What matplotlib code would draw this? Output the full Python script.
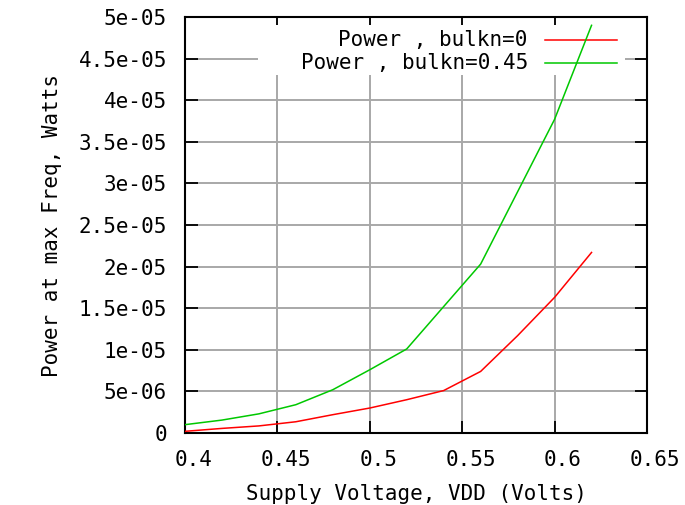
import matplotlib
matplotlib.use("Agg")
import matplotlib.pyplot as plt
from matplotlib.patches import Rectangle
from matplotlib.lines import Line2D
from matplotlib.transforms import ScaledTranslation

# supply voltage sweep and power at max frequency for two bulk settings
vdd = [0.40, 0.42, 0.44, 0.46, 0.48, 0.50, 0.52, 0.54, 0.56, 0.58, 0.60, 0.62]
power_bulk0 = [0.2e-6, 0.55e-6, 0.85e-6, 1.35e-6, 2.2e-6, 3.0e-6,
               4.0e-6, 5.1e-6, 7.4e-6, 1.17e-5, 1.63e-5, 2.17e-5]
power_bulk045 = [1.0e-6, 1.55e-6, 2.3e-6, 3.4e-6, 5.2e-6, 7.6e-6,
                 1.01e-5, 1.52e-5, 2.03e-5, 2.9e-5, 3.77e-5, 4.9e-5]

series_labels = ["Power , bulkn=0", "Power , bulkn=0.45"]
series_colors = ['#ff0000', '#00c800']

xticks = [0.4, 0.45, 0.5, 0.55, 0.6, 0.65]
xtick_labels = ["0.4", "0.45", "0.5", "0.55", "0.6", "0.65"]
yticks = [0, 5e-6, 1e-5, 1.5e-5, 2e-5, 2.5e-5, 3e-5, 3.5e-5, 4e-5, 4.5e-5, 5e-5]
ytick_labels = ["0", "5e-06", "1e-05", "1.5e-05", "2e-05", "2.5e-05",
                "3e-05", "3.5e-05", "4e-05", "4.5e-05", "5e-05"]

plt.rcParams['font.family'] = ['DejaVu Sans Mono']
plt.rcParams['font.size'] = 15

fig = plt.figure(figsize=(6.85, 5.05), dpi=100)
ax = fig.add_axes([0.270, 0.1426, 0.6745, 0.8237])

ax.plot(vdd, power_bulk0, color=series_colors[0], lw=1.1, zorder=3)
ax.plot(vdd, power_bulk045, color=series_colors[1], lw=1.1, zorder=3)

ax.set_xlim(0.4, 0.65)
ax.set_ylim(0, 5e-5)
ax.set_xticks(xticks)
ax.set_xticklabels(xtick_labels)
ax.set_yticks(yticks)
ax.set_yticklabels(ytick_labels)

ax.tick_params(direction='in', length=9, width=1.3, top=True, right=True,
               colors='black')
ax.tick_params(axis='x', pad=12)
ax.tick_params(axis='y', pad=13)
for lab in ax.get_xticklabels():
    lab.set_transform(lab.get_transform() + ScaledTranslation(6 / 72, 0, fig.dpi_scale_trans))

ax.grid(True, color='#a8a8a8', lw=1.4)
ax.set_axisbelow(True)
for sp in ax.spines.values():
    sp.set_linewidth(1.5)
    sp.set_color('black')

ax.set_xlabel("Supply Voltage, VDD (Volts)", labelpad=10)
ax.set_ylabel("Power at max Freq, Watts", labelpad=12)

# gnuplot-style key: blanked box, right-justified text, then the sample line
ax.add_patch(Rectangle((0.158, 0.861), 0.794, 0.12, transform=ax.transAxes,
                       facecolor='white', edgecolor='none', zorder=1))
key_rows = [0.945, 0.889]
for label, color, ky in zip(series_labels, series_colors, key_rows):
    ax.text(0.742, ky, label, transform=ax.transAxes, ha='right', va='center', zorder=2)
    ax.add_line(Line2D([0.779, 0.935], [ky, ky], transform=ax.transAxes,
                       color=color, lw=1.1, zorder=2))

fig.savefig("out.png", dpi=100)
